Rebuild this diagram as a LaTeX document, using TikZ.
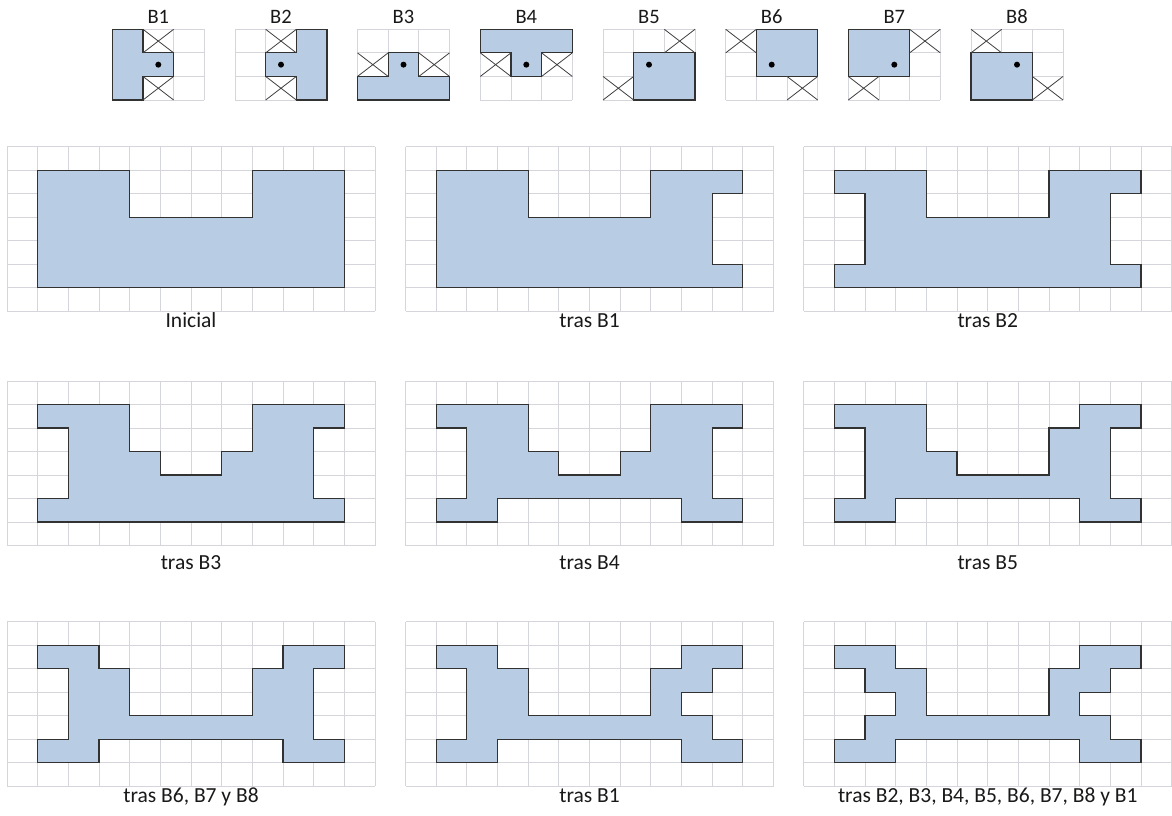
\documentclass[tikz,border=0pt]{standalone}
\usepackage{fontspec}
\setmainfont{Carlito}
\definecolor{cellfill}{RGB}{184,204,228}
\definecolor{gridc}{RGB}{212,214,220}
\definecolor{edgec}{RGB}{50,50,50}
\tikzset{
  gridl/.style={draw=gridc,line width=0.9pt},
  blob/.style={fill=cellfill,draw=edgec,line width=1.2pt,line join=miter},
  xl/.style={draw=black!75,line width=0.8pt},
  lbl/.style={anchor=base,font=\fontsize{21.5}{25}\selectfont,text=black!90,inner sep=0pt},
  tlbl/.style={anchor=base,font=\fontsize{20.5}{24}\selectfont,text=black!90,inner sep=0pt}
}
\newcommand\xc[2]{\draw[xl] (#1,#2) -- ++(1,1) (#1+1,#2) -- ++(-1,1);}
\newcommand\selem[4]{%
  \begin{scope}[shift={(#2,29.3)},x=30.667pt,y=-23.57pt]
    \foreach \i in {0,...,3} \draw[gridl] (\i,0) -- (\i,3);
    \foreach \j in {0,...,3} \draw[gridl] (0,\j) -- (3,\j);
    \draw[blob] #3 -- cycle;
    #4
    \fill (1.5,1.5) circle (3pt);
  \end{scope}
  \node[tlbl] (#1) at (#2+46,23.3) {#1};
}
\newcommand\bigpanel[6]{%
  \begin{scope}[shift={(#2,#3)},x=30.667pt,y=-23.5pt]
    \foreach \i in {0,...,12} \draw[gridl] (\i,0) -- (\i,7);
    \foreach \j in {0,...,7} \draw[gridl] (0,\j) -- (12,\j);
    \draw[blob] #4 -- cycle;
  \end{scope}
  \node[lbl] (#1) at (#2+184,#5) {#6};
}
\begin{document}
\begin{tikzpicture}[x=1pt,y=-1pt]
\useasboundingbox (0,0) rectangle (1172,816);
\fill[white] (0,0) rectangle (1172,816);
% structuring elements
\selem{B1}{112.3}{(0,0)--(1,0)--(1,1)--(2,1)--(2,2)--(1,2)--(1,3)--(0,3)}{\xc{1}{0}\xc{1}{2}}
\selem{B2}{235}{(3,0)--(2,0)--(2,1)--(1,1)--(1,2)--(2,2)--(2,3)--(3,3)}{\xc{1}{0}\xc{1}{2}}
\selem{B3}{357.5}{(0,3)--(0,2)--(1,2)--(1,1)--(2,1)--(2,2)--(3,2)--(3,3)}{\xc{0}{1}\xc{2}{1}}
\selem{B4}{480.3}{(0,0)--(3,0)--(3,1)--(2,1)--(2,2)--(1,2)--(1,1)--(0,1)}{\xc{0}{1}\xc{2}{1}}
\selem{B5}{603}{(1,1)--(3,1)--(3,3)--(1,3)}{\xc{2}{0}\xc{0}{2}}
\selem{B6}{725.7}{(1,0)--(3,0)--(3,2)--(1,2)}{\xc{0}{0}\xc{2}{2}}
\selem{B7}{848.3}{(0,0)--(2,0)--(2,2)--(0,2)}{\xc{2}{0}\xc{0}{2}}
\selem{B8}{971}{(0,1)--(2,1)--(2,3)--(0,3)}{\xc{0}{0}\xc{2}{2}}
% row 1
\bigpanel{p1}{7}{146.7}{(1,1)--(4,1)--(4,3)--(8,3)--(8,1)--(11,1)--(11,6)--(1,6)}{327.7}{Inicial}
\bigpanel{p2}{405.5}{146.7}{(1,1)--(4,1)--(4,3)--(8,3)--(8,1)--(11,1)--(11,2)--(10,2)--(10,5)--(11,5)--(11,6)--(1,6)}{327.7}{tras B1}
\bigpanel{p3}{803.7}{146.7}{(1,1)--(4,1)--(4,3)--(8,3)--(8,1)--(11,1)--(11,2)--(10,2)--(10,5)--(11,5)--(11,6)--(1,6)--(1,5)--(2,5)--(2,2)--(1,2)}{327.7}{tras B2}
% row 2
\bigpanel{p4}{7}{381}{(1,1)--(4,1)--(4,3)--(5,3)--(5,4)--(7,4)--(7,3)--(8,3)--(8,1)--(11,1)--(11,2)--(10,2)--(10,5)--(11,5)--(11,6)--(1,6)--(1,5)--(2,5)--(2,2)--(1,2)}{569}{tras B3}
\bigpanel{p5}{405.5}{381}{(1,1)--(4,1)--(4,3)--(5,3)--(5,4)--(7,4)--(7,3)--(8,3)--(8,1)--(11,1)--(11,2)--(10,2)--(10,5)--(11,5)--(11,6)--(9,6)--(9,5)--(3,5)--(3,6)--(1,6)--(1,5)--(2,5)--(2,2)--(1,2)}{569}{tras B4}
\bigpanel{p6}{803.7}{381}{(1,1)--(4,1)--(4,3)--(5,3)--(5,4)--(8,4)--(8,2)--(9,2)--(9,1)--(11,1)--(11,2)--(10,2)--(10,5)--(11,5)--(11,6)--(9,6)--(9,5)--(3,5)--(3,6)--(1,6)--(1,5)--(2,5)--(2,2)--(1,2)}{569}{tras B5}
% row 3
\bigpanel{p7}{7}{621.7}{(1,1)--(3,1)--(3,2)--(4,2)--(4,4)--(8,4)--(8,2)--(9,2)--(9,1)--(11,1)--(11,2)--(10,2)--(10,5)--(11,5)--(11,6)--(9,6)--(9,5)--(3,5)--(3,6)--(1,6)--(1,5)--(2,5)--(2,2)--(1,2)}{802.7}{tras B6, B7 y B8}
\bigpanel{p8}{405.5}{621.7}{(1,1)--(3,1)--(3,2)--(4,2)--(4,4)--(8,4)--(8,2)--(9,2)--(9,1)--(11,1)--(11,2)--(10,2)--(10,3)--(9,3)--(9,4)--(10,4)--(10,5)--(11,5)--(11,6)--(9,6)--(9,5)--(3,5)--(3,6)--(1,6)--(1,5)--(2,5)--(2,2)--(1,2)}{802.7}{tras B1}
\bigpanel{p9}{803.7}{621.7}{(1,1)--(3,1)--(3,2)--(4,2)--(4,4)--(8,4)--(8,2)--(9,2)--(9,1)--(11,1)--(11,2)--(10,2)--(10,3)--(9,3)--(9,4)--(10,4)--(10,5)--(11,5)--(11,6)--(9,6)--(9,5)--(3,5)--(3,6)--(1,6)--(1,5)--(2,5)--(2,4)--(3,4)--(3,3)--(2,3)--(2,2)--(1,2)}{802.7}{tras B2, B3, B4, B5, B6, B7, B8 y B1}
\end{tikzpicture}
\end{document}
